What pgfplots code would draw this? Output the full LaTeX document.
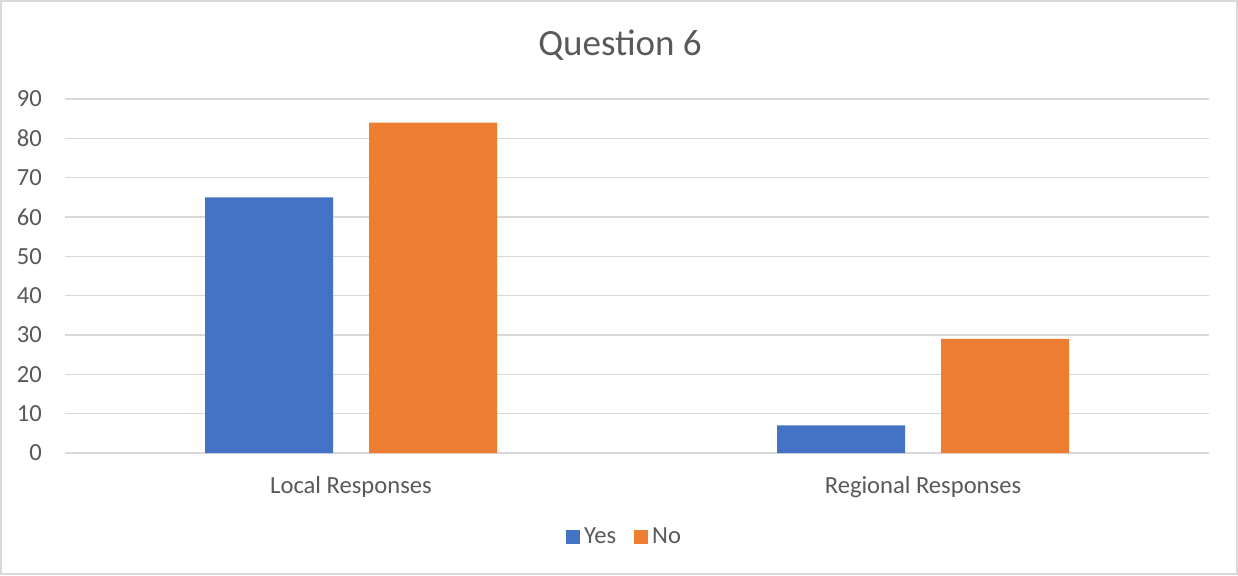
\documentclass[border=0pt]{standalone}
\usepackage{fontspec}
\setmainfont{Carlito}
\usepackage{pgfplots}
\pgfplotsset{compat=1.18}
\definecolor{cblue}{HTML}{4472C4}
\definecolor{corange}{HTML}{ED7D31}
\definecolor{ctext}{HTML}{595959}
\definecolor{cgrid}{HTML}{D9D9D9}
\begin{document}
\begin{tikzpicture}[x=1pt,y=1pt]
\draw[cgrid, line width=0.8pt, fill=white] (0.4,0.4) rectangle (618.6,287.1);
\node[text=ctext, font=\fontsize{18.5}{22}\selectfont] at (310,265) {Question 6};
\begin{axis}[
  at={(32.5pt,61pt)}, anchor=south west,
  scale only axis, width=572pt, height=177pt,
  xmin=-0.5, xmax=1.5, ymin=0, ymax=90,
  ybar, bar width=64pt,
  xtick={0,1}, xticklabels={Local Responses, Regional Responses},
  ytick={0,10,...,90},
  /pgf/number format/assume math mode=true,
  ymajorgrids, grid style={cgrid, line width=0.8pt},
  axis line style={draw=none},
  axis x line*=bottom, axis y line*=left,
  x axis line style={cgrid, line width=0.8pt},
  y axis line style={draw=none},
  major tick length=0pt,
  tick label style={text=ctext, font=\fontsize{12.3}{14}\selectfont},
  yticklabel style={xshift=-8pt},
  xticklabel style={yshift=-8pt},
  legend style={at={(0.49,-0.237)}, anchor=center, legend columns=2, draw=none, fill=none,
    font=\fontsize{12.3}{14}\selectfont, text=ctext,
    /tikz/every even column/.append style={column sep=7pt},
    /tikz/every odd column/.append style={column sep=0pt}},
  legend image code/.code={\fill[#1] (0pt,-3.5pt) rectangle (7pt,3.5pt);},
]
\addplot[fill=cblue, draw=none, bar shift=-41pt] coordinates {(0,65) (1,7)};
\addplot[fill=corange, draw=none, bar shift=41pt] coordinates {(0,84) (1,29)};
\legend{Yes, No}
\end{axis}
\end{tikzpicture}
\end{document}
